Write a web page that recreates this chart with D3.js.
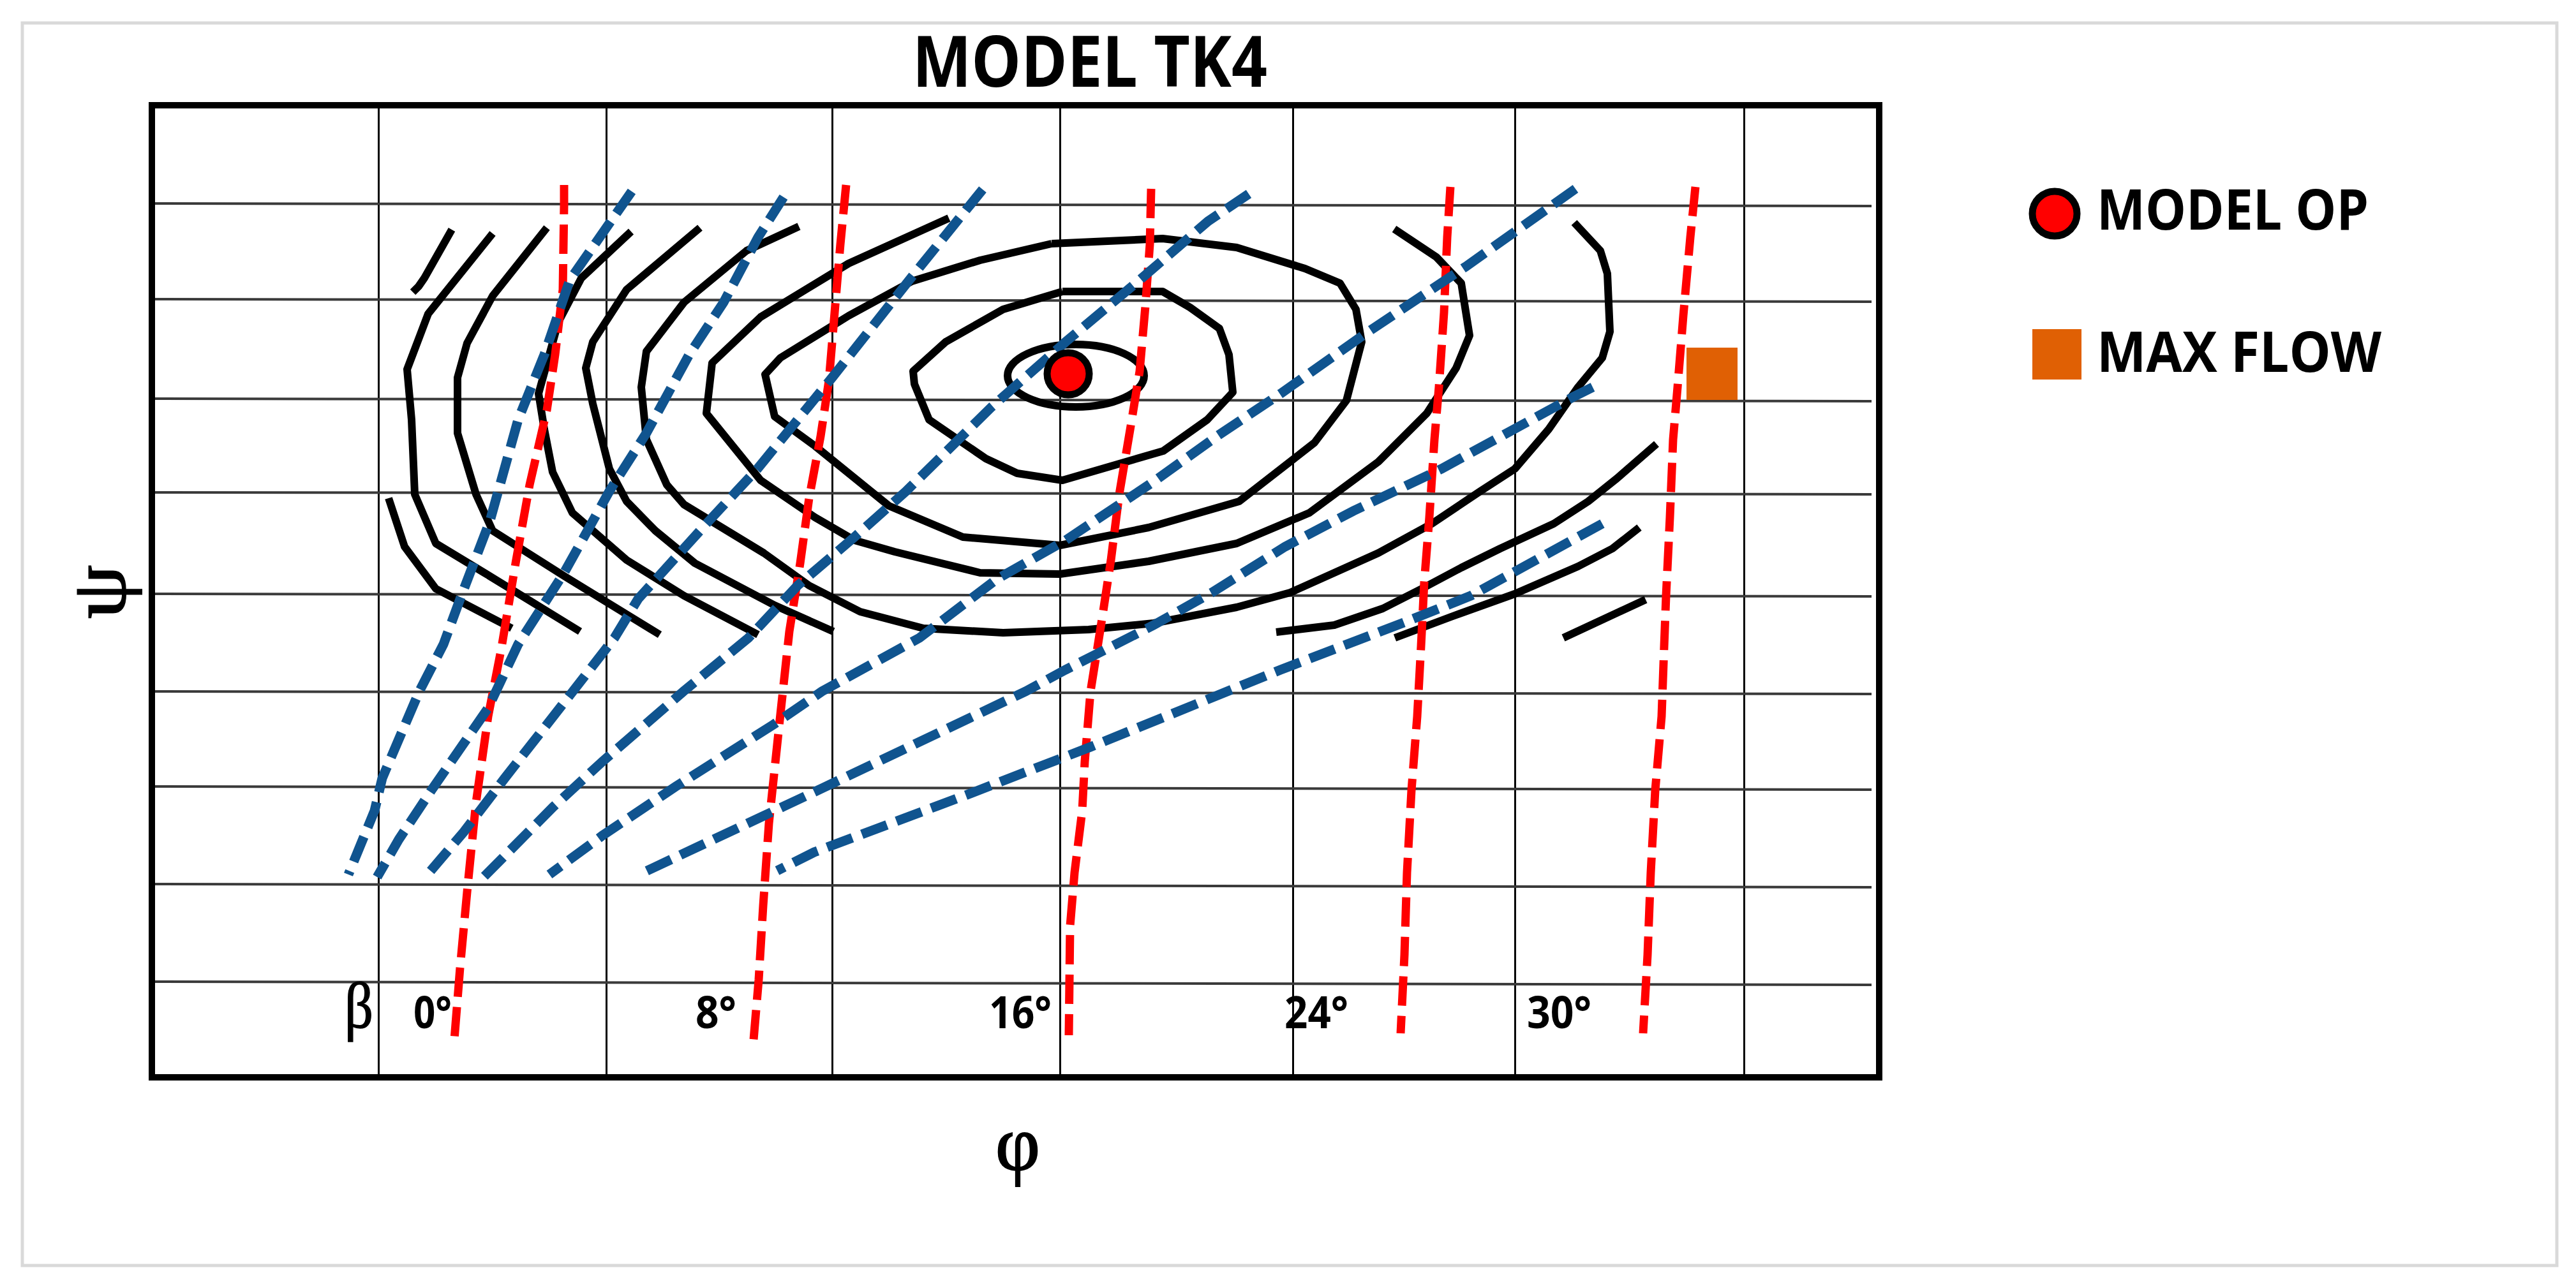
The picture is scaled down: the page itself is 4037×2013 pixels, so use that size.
<!DOCTYPE html>
<html>
<head>
<meta charset="utf-8">
<title>MODEL TK4</title>
<script src="https://cdn.jsdelivr.net/npm/d3@7"></script>
<style>
  html, body { margin: 0; padding: 0; background: #fff; }
  svg { display: block; }
</style>
</head>
<body>
<div id="graph_container"></div>
<script>
// values in plot units: phi runs along the plot width, psi up the plot height
var phi_grid   = [355, 712, 1066, 1423, 1788, 2136, 2495];
var psi_grid_l = [1370, 1220, 1064, 917, 758, 605, 456, 303, 150];
var psi_grid_r = [1366, 1216, 1060, 914, 754, 601, 451, 298, 145];

var beta_labels = ["0°", "8°", "16°", "24°", "30°"];
var beta_label_phi = [410, 852, 1312, 1775, 2155];
var beta_label_len = [60, 64, 98, 100, 101];

// speed lines (red)
var beta_0  = [[646,1399],[646,1368],[644,1235],[632,1133],[619,1046],[592,929],[570,806],[548,674],[527,566],[508,431],[495,301],[483,172],[474,59]];
var beta_8  = [[1088,1399],[1079,1306],[1070,1199],[1061,1092],[1048,1005],[1030,908],[1016,806],[999,699],[984,560],[967,398],[958,269],[951,153],[943,59]];
var beta_16 = [[1566,1393],[1564,1306],[1557,1209],[1548,1107],[1534,1021],[1516,914],[1503,811],[1490,725],[1471,605],[1462,495],[1458,418],[1446,321],[1439,237],[1437,66]];
var beta_24 = [[2035,1396],[2030,1317],[2025,1199],[2017,1082],[2010,1000],[2002,878],[1994,776],[1989,676],[1983,566],[1974,450],[1967,321],[1963,192],[1957,69]];
var beta_30 = [[2419,1396],[2411,1317],[2400,1194],[2391,1082],[2384,1000],[2379,878],[2373,755],[2370,676],[2366,566],[2356,450],[2349,321],[2344,192],[2337,69]];

// blue dashed lines
var blue_1 = [[752,1389],[655,1250],[615,1133],[574,1031],[530,873],[485,755],[457,679],[419,605],[361,469],[349,418],[308,318]];
var blue_2 = [[990,1380],[950,1317],[896,1215],[842,1133],[775,1010],[717,919],[646,791],[574,679],[527,579],[438,450],[387,373],[353,314]];
var blue_3 = [[1302,1392],[1191,1255],[1066,1097],[949,954],[869,868],[762,750],[725,689],[655,599],[553,469],[489,385],[432,318]];
var blue_4 = [[1719,1385],[1655,1342],[1548,1250],[1432,1153],[1316,1051],[1182,919],[1101,847],[1012,771],[935,689],[833,605],[706,495],[629,424],[517,311]];
var blue_5 = [[2231,1393],[2059,1271],[1899,1164],[1769,1072],[1669,1005],[1570,934],[1432,842],[1324,781],[1203,689],[1050,605],[974,553],[821,456],[706,379],[623,318]];
var blue_6 = [[2258,1082],[2228,1067],[2021,954],[1883,888],[1776,832],[1661,760],[1570,709],[1432,639],[1369,605],[1050,453],[770,321]];
var blue_7 = [[2273,868],[2067,755],[1967,715],[1769,639],[1471,518],[1280,444],[1038,353],[980,324]];

// efficiency contours (black)
var contour_a = [[470,1329],[427,1253],[418,1240],[409,1231]];
var contour_b = [[371,908],[396,832],[445,766],[564,704]];
var contour_c = [[534,1323],[433,1197],[400,1110],[407,1031],[412,914],[445,837],[521,791],[671,699]];
var contour_d = [[619,1332],[534,1225],[494,1151],[479,1097],[479,1010],[508,914],[534,857],[646,786],[796,694]];
var contour_e = [[751,1326],[673,1253],[637,1184],[606,1072],[615,1016],[628,949],[659,885],[744,811],[834,755],[950,694]];
var contour_f = [[859,1332],[744,1235],[691,1153],[680,1112],[691,1056],[717,954],[744,903],[789,857],[851,806],[976,740],[1068,699]];
var contour_g = [[1014,1334],[932,1296],[834,1215],[775,1138],[767,1082],[775,1000],[807,929],[834,898],[959,822],[1030,771],[1110,730],[1209,704],[1334,697],[1468,702],[1570,712],[1700,737],[1784,760],[1922,822],[2006,868],[2082,919],[2136,954],[2189,1016],[2235,1082],[2273,1128],[2285,1169],[2281,1260],[2270,1296],[2229,1340]];
var contour_h = [[1249,1347],[1092,1276],[954,1192],[878,1120],[869,1041],[954,936],[1039,878],[1101,842],[1164,824],[1298,791],[1423,789],[1562,809],[1700,837],[1814,885],[1922,965],[1998,1041],[2044,1112],[2065,1163],[2052,1245],[2013,1286],[1947,1330]];
var contour_i = [[1410,1307],[1584,1315],[1700,1301],[1807,1268],[1862,1245],[1887,1204],[1896,1153],[1872,1061],[1822,995],[1704,903],[1562,862],[1423,834],[1271,847],[1155,896],[1039,990],[976,1036],[961,1102],[985,1128],[1092,1194],[1191,1248],[1298,1281],[1410,1307]];
var contour_j = [[1427,1232],[1584,1232],[1627,1207],[1673,1174],[1688,1133],[1694,1074],[1654,1031],[1585,982],[1427,936],[1356,947],[1307,970],[1218,1031],[1195,1087],[1193,1107],[1244,1153],[1334,1204],[1427,1232]];
var contour_k = [[1762,698],[1853,709],[1929,735],[1990,766],[2052,799],[2113,829],[2197,868],[2251,903],[2296,939],[2358,993]];
var contour_l = [[1948,689],[2036,722],[2136,758],[2235,801],[2289,829],[2331,862]];
var contour_m = [[2212,689],[2341,749]];

var inner_ring = [[1448, 1100]];
var model_op   = [[1436, 1103]];
var max_flow   = [[2445, 1103]];

var red_lines     = [beta_0, beta_8, beta_16, beta_24, beta_30];
var blue_lines    = [blue_1, blue_2, blue_3, blue_4, blue_5, blue_6, blue_7];
var black_lines   = [contour_a, contour_b, contour_c, contour_d, contour_e, contour_f, contour_g, contour_h, contour_i, contour_j, contour_k, contour_l, contour_m];

var width  = 4037;
var height = 2013;

var plot_left = 238, plot_right = 2945, plot_top = 165, plot_bottom = 1689;

var svg = d3.select("#graph_container").append("svg")
    .attr("width", width).attr("height", height)
    .attr("viewBox", "0 0 " + width + " " + height);

var scale_x = d3.scaleLinear().domain([0, 2707]).range([plot_left, plot_right]);
var scale_y = d3.scaleLinear().domain([0, 1524]).range([plot_bottom, plot_top]);

var line = d3.line()
    .x(function(d) { return scale_x(d[0]); })
    .y(function(d) { return scale_y(d[1]); });

var main_font = "'Open Sans', sans-serif";
var greek_font = "'Liberation Serif', serif";

// outer grey box
svg.append("rect")
    .attr("x", 35).attr("y", 36)
    .attr("width", 3972).attr("height", 1948)
    .attr("fill", "#fff")
    .attr("stroke", "#d9d9d9")
    .attr("stroke-width", 5);

// vertical grid from an axis, horizontal grid leans slightly so it gets its own lines
var grid_v = svg.append("g")
    .attr("transform", "translate(0," + plot_bottom + ")")
    .call(d3.axisBottom(scale_x).tickValues(phi_grid).tickSize(-(plot_bottom - plot_top)).tickFormat(""));
grid_v.select(".domain").remove();
grid_v.selectAll("line").attr("stroke", "#000").attr("stroke-width", 3);

svg.append("g").selectAll("line").data(psi_grid_l).enter().append("line")
    .attr("x1", scale_x(0))
    .attr("x2", scale_x(2695))
    .attr("y1", function(d) { return scale_y(d); })
    .attr("y2", function(d, i) { return scale_y(psi_grid_r[i]); })
    .attr("stroke", "#3a3a3a")
    .attr("stroke-width", 4);

// plot frame
svg.append("rect")
    .attr("x", scale_x(0)).attr("y", scale_y(1524))
    .attr("width", scale_x(2707) - scale_x(0))
    .attr("height", scale_y(0) - scale_y(1524))
    .attr("fill", "none")
    .attr("stroke", "#000")
    .attr("stroke-width", 10);

// contours go under the dashed lines
svg.append("g").selectAll("path").data(black_lines).enter().append("path")
    .attr("d", line)
    .attr("fill", "none")
    .attr("stroke", "#000")
    .attr("stroke-width", 12)
    .attr("stroke-linejoin", "round");

svg.append("g").selectAll("ellipse").data(inner_ring).enter().append("ellipse")
    .attr("cx", function(d) { return scale_x(d[0]); })
    .attr("cy", function(d) { return scale_y(d[1]); })
    .attr("rx", 107)
    .attr("ry", 49)
    .attr("fill", "none")
    .attr("stroke", "#000")
    .attr("stroke-width", 12);

svg.append("g").selectAll("path").data(red_lines).enter().append("path")
    .attr("d", line)
    .attr("fill", "none")
    .attr("stroke", "#ff0000")
    .attr("stroke-width", 13)
    .attr("stroke-dasharray", "46,16");

svg.append("g").selectAll("path").data(blue_lines).enter().append("path")
    .attr("d", line)
    .attr("fill", "none")
    .attr("stroke", "#10548f")
    .attr("stroke-width", 15)
    .attr("stroke-dasharray", "42,16");

svg.append("g").selectAll("circle").data(model_op).enter().append("circle")
    .attr("cx", function(d) { return scale_x(d[0]); })
    .attr("cy", function(d) { return scale_y(d[1]); })
    .attr("r", 33)
    .attr("fill", "#ff0000")
    .attr("stroke", "#000")
    .attr("stroke-width", 11);

svg.append("g").selectAll("rect").data(max_flow).enter().append("rect")
    .attr("x", function(d) { return scale_x(d[0]) - 40; })
    .attr("y", function(d) { return scale_y(d[1]) - 41; })
    .attr("width", 80)
    .attr("height", 82)
    .attr("fill", "#e06004");

// beta labels
svg.append("g").selectAll("text").data(beta_labels).enter().append("text")
    .attr("x", function(d, i) { return scale_x(beta_label_phi[i]); })
    .attr("y", 1612)
    .attr("font-family", main_font)
    .attr("font-weight", 700)
    .attr("font-size", 70)
    .attr("textLength", function(d, i) { return beta_label_len[i]; })
    .attr("lengthAdjust", "spacingAndGlyphs")
    .text(function(d) { return d; });

function add_text(txt, x, y, size, len, font, weight) {
    return svg.append("text")
        .attr("x", x).attr("y", y)
        .attr("font-family", font)
        .attr("font-weight", weight)
        .attr("font-size", size)
        .attr("textLength", len)
        .attr("lengthAdjust", "spacingAndGlyphs")
        .attr("fill", "#000")
        .text(txt);
}

add_text("MODEL TK4", 1430, 136, 112, 556, main_font, 700);
add_text("MODEL OP", 3286, 360, 87, 426, main_font, 700);
add_text("MAX FLOW", 3286, 583, 87, 446, main_font, 700);
add_text("β", 540, 1611, 102, 45, greek_font, 400).attr("stroke", "#000").attr("stroke-width", 1.5);
add_text("φ", 1560, 1834, 122, 70, greek_font, 400).attr("stroke", "#000").attr("stroke-width", 2);
add_text("ψ", 0, 0, 122, 84, greek_font, 400)
    .attr("stroke", "#000").attr("stroke-width", 2)
    .attr("transform", "translate(196,970) rotate(-90)");

// legend marks
svg.append("circle")
    .attr("cx", 3220).attr("cy", 335).attr("r", 35)
    .attr("fill", "#ff0000").attr("stroke", "#000").attr("stroke-width", 11);

svg.append("rect")
    .attr("x", 3185).attr("y", 516)
    .attr("width", 77).attr("height", 79)
    .attr("fill", "#e06004");
</script>
</body>
</html>
